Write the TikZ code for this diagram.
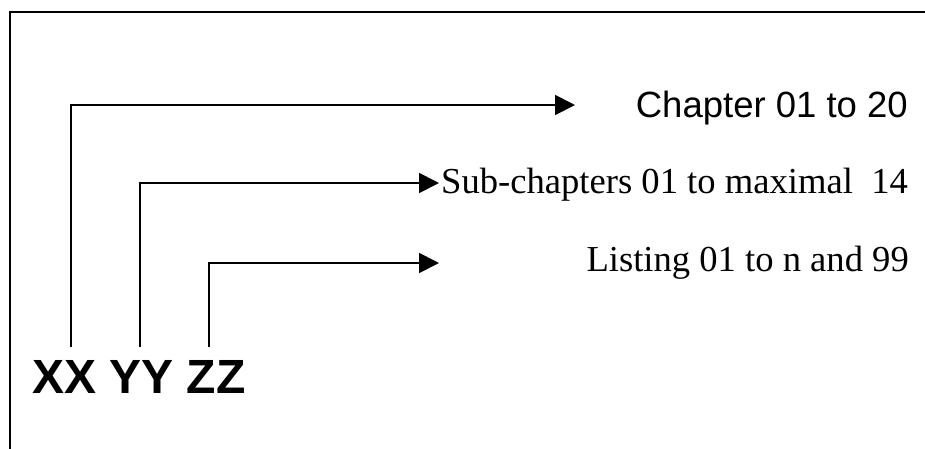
\documentclass[tikz,border=0pt]{standalone}
\usepackage{fontspec}
\setmainfont{Liberation Serif}
\newfontfamily\arialfont{Liberation Sans}
\usetikzlibrary{arrows.meta}
\begin{document}
\begin{tikzpicture}[x=1pt,y=-1pt,
  conn/.style={line width=1.8pt,-{Triangle[length=20pt,width=20pt]}},
  sanslabel/.style={inner sep=0pt,anchor=base east,font=\arialfont\fontsize{36.5}{40}\selectfont},
  seriflabel/.style={inner sep=0pt,anchor=base east,font=\fontsize{36.6}{40}\selectfont},
  codelabel/.style={inner sep=0pt,anchor=base west,font=\arialfont\bfseries\fontsize{48}{52}\selectfont}]
\useasboundingbox (0,0) rectangle (925,448);
\draw[line width=2.5pt] (10,460) -- (10,12) -- (940,12);
\node[codelabel] (code) at (32,393) {XX YY ZZ};
\coordinate (xx) at (71,347);
\coordinate (yy) at (140,347);
\coordinate (zz) at (209,347);
\coordinate (t1) at (575,105);
\coordinate (t2) at (439,183);
\coordinate (t3) at (439,263);
\node[sanslabel] (chap) at (908,117) {Chapter 01 to 20};
\node[seriflabel] (sub) at (908,193) {Sub-chapters 01 to maximal\ \ 14};
\node[seriflabel] (list) at (909,271) {Listing 01 to n and 99};
\draw[conn] (xx) |- (t1);
\draw[conn] (yy) |- (t2);
\draw[conn] (zz) |- (t3);
\end{tikzpicture}
\end{document}
